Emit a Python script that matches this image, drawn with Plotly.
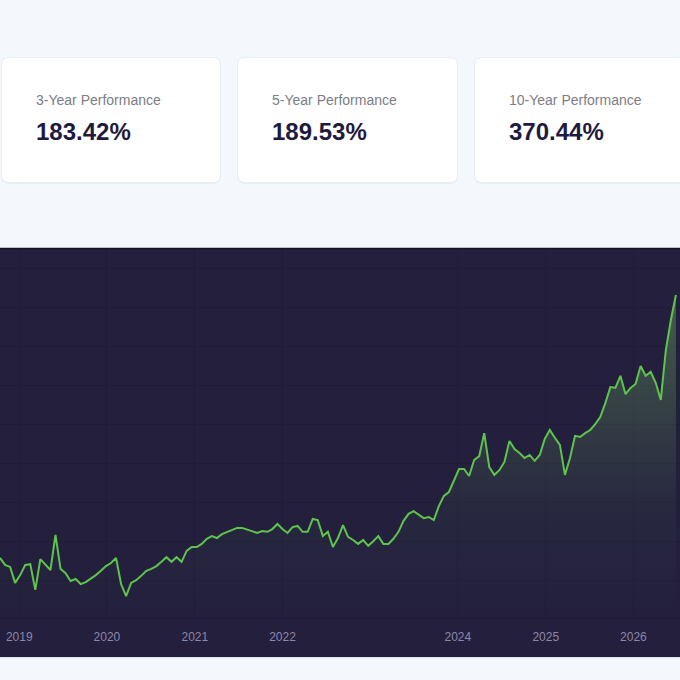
import pandas as pd
import plotly.graph_objects as go

# summary cards
card_labels = ["3-Year Performance", "5-Year Performance", "10-Year Performance"]
card_values = ["183.42%", "189.53%", "370.44%"]

# closing price, one value every 3 weeks from 2018-10-13
prices = [
    55.9, 54.1, 53.6, 49.5, 51.5, 54.1, 54.3, 47.7, 55.6, 54.3,
    52.8, 61.8, 53.1, 52.0, 50.0, 50.5, 49.2, 49.7, 50.5, 51.5,
    52.6, 53.8, 54.6, 55.9, 49.2, 46.1, 49.5, 50.2, 51.3, 52.6,
    53.1, 53.8, 54.9, 56.1, 54.9, 56.1, 54.9, 57.7, 58.7, 58.7,
    59.5, 60.8, 61.5, 61.0, 62.0, 62.6, 63.1, 63.6, 63.6, 63.1,
    62.6, 62.3, 62.8, 62.6, 63.3, 64.6, 63.3, 62.3, 63.8, 64.1,
    62.6, 62.6, 65.9, 65.6, 61.5, 62.6, 58.7, 61.0, 64.3, 61.3,
    60.5, 59.5, 60.5, 59.0, 60.2, 61.5, 59.5, 59.5, 60.8, 62.6,
    65.4, 67.2, 67.9, 66.9, 66.1, 66.4, 65.6, 69.2, 71.8, 72.8,
    75.9, 78.7, 78.7, 76.9, 81.0, 82.0, 87.9, 79.2, 77.2, 78.4,
    80.5, 85.9, 83.8, 82.8, 81.5, 82.3, 80.8, 82.3, 86.4, 88.7,
    86.7, 84.9, 77.2, 81.5, 87.2, 86.9, 87.9, 88.7, 90.2, 92.0,
    95.6, 99.7, 99.5, 102.6, 97.9, 99.5, 100.5, 105.1, 102.6, 103.6,
    100.8, 96.4, 109.2, 116.9, 123.3,
]
dates = pd.date_range("2018-10-13", periods=len(prices), freq="21D")

year_ticks = [2019, 2020, 2021, 2022, 2024, 2025, 2026]

PAGE_BG = "#f4f8fc"
PANE_BG = "#231f3d"
GRID = "#1f1b38"
GREEN = "#5ec44b"

W, H = 680, 680
TOP, BOTTOM = 249, 618  # plot area in pixels


def px(x):
    return x / W


def py(y):
    return (BOTTOM - y) / (BOTTOM - TOP)


def rounded_rect(x0, y0, x1, y1, r=7):
    # svg path in paper units, pixel input
    rx, ry = r / W, r / (BOTTOM - TOP)
    a, b, c, d = px(x0), px(x1), py(y1), py(y0)  # left, right, bottom, top
    return (f"M{a + rx},{d} L{b - rx},{d} Q{b},{d} {b},{d - ry} "
            f"L{b},{c + ry} Q{b},{c} {b - rx},{c} L{a + rx},{c} "
            f"Q{a},{c} {a},{c + ry} L{a},{d - ry} Q{a},{d} {a + rx},{d} Z")


fig = go.Figure()
fig.add_trace(go.Scatter(x=dates, y=prices,
                         mode='lines',
                         line=dict(color=GREEN, width=2),
                         fill='tozeroy',
                         fillgradient=dict(type="vertical",
                                           colorscale=[[0, "rgba(113,177,98,0)"],
                                                       [0.3, "rgba(113,177,98,0.06)"],
                                                       [1, "rgba(113,177,98,0.5)"]],
                                           start=40.5, stop=135.1),
                         hovertemplate='%{x|%Y-%m-%d}<br>%{y}<extra></extra>'))

shapes = []
# dark chart pane, wider than the plot area so the date labels sit on it
shapes.append(dict(type="rect", xref="paper", yref="paper", layer="below",
                   x0=-0.01, x1=1.01, y0=py(657), y1=py(248),
                   fillcolor=PANE_BG, line_width=0))
shapes.append(dict(type="line", xref="paper", yref="paper",
                   x0=-0.01, x1=1.01, y0=py(248.5), y1=py(248.5),
                   line=dict(color="#15122a", width=1.5)))
shapes.append(dict(type="line", xref="paper", yref="paper",
                   x0=-0.01, x1=1.01, y0=py(657.5), y1=py(657.5),
                   line=dict(color="#dfe3ea", width=1)))

card_x = [(2, 220), (238, 457), (475, 700)]
for x0, x1 in card_x:
    # soft shadow then the card itself
    shapes.append(dict(type="path", xref="paper", yref="paper", layer="below",
                       path=rounded_rect(x0 - 1, 57, x1 + 1, 184, 8),
                       fillcolor="rgba(40,60,110,0.05)", line_width=0))
    shapes.append(dict(type="path", xref="paper", yref="paper", layer="below",
                       path=rounded_rect(x0, 58, x1, 182, 7),
                       fillcolor="white", line_width=0))

annotations = []
for (x0, x1), label, value in zip(card_x, card_labels, card_values):
    annotations.append(dict(xref="paper", yref="paper", x=px(x0 + 32), y=py(100),
                            xanchor="left", yanchor="middle", showarrow=False,
                            text=label, font=dict(size=14, color="#7d7d85")))
    annotations.append(dict(xref="paper", yref="paper", x=px(x0 + 32), y=py(132),
                            xanchor="left", yanchor="middle", showarrow=False,
                            text=value, font=dict(size=24, color="#1f1b3d", weight=700)))

fig.update_xaxes(
    type="date",
    range=[dates[0], dates[0] + pd.Timedelta(days=2831)],
    tickvals=[pd.Timestamp(f"{y}-01-01") for y in year_ticks],
    ticktext=[str(y) for y in year_ticks],
    tickfont=dict(size=12, color="#8c88a8"),
    ticks="",
    ticklabelstandoff=8,
    showgrid=True, gridcolor=GRID, gridwidth=1,
    showline=True, linecolor=GRID, linewidth=1,
    zeroline=False, automargin=False, fixedrange=True)
fig.update_yaxes(
    range=[40.5, 135.1], dtick=10,
    showgrid=True, gridcolor=GRID, gridwidth=1,
    showticklabels=False, zeroline=False, automargin=False, fixedrange=True)

fig.update_layout(width=W, height=H,
                  margin=dict(l=0, r=0, t=TOP, b=H - BOTTOM),
                  paper_bgcolor=PAGE_BG, plot_bgcolor=PANE_BG,
                  font=dict(family="Liberation Sans, Arial, sans-serif"),
                  showlegend=False, dragmode=False,
                  shapes=shapes, annotations=annotations)

# no default page margin, so the figure fills the window
fig.write_html("out.html", config={"displayModeBar": False},
               post_script="document.body.style.margin='0';document.body.style.overflow='hidden';")
